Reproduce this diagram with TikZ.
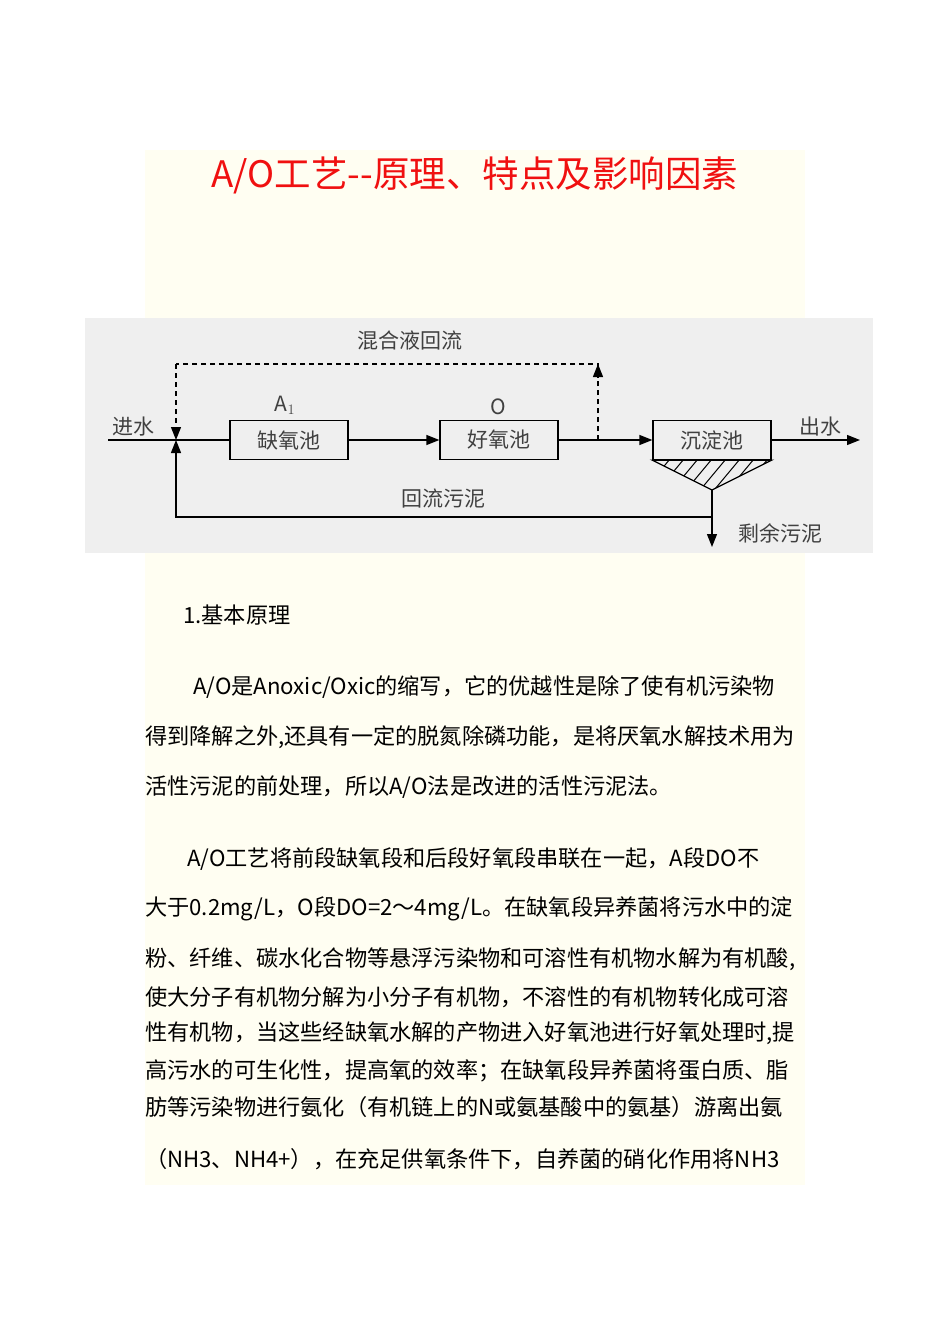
\documentclass[tikz,border=0pt]{standalone}
\usepackage{fontspec}
\setmainfont{Noto Sans CJK SC}
\usetikzlibrary{arrows.meta}
\definecolor{cream}{HTML}{FFFEF2}
\definecolor{dgrey}{HTML}{EFEFEF}
\definecolor{tred}{HTML}{F01010}
\tikzset{
  box/.style={draw,line width=1.3pt,fill=dgrey,minimum width=118pt,minimum height=39pt,inner sep=0pt,font=\fontsize{21}{21}\selectfont,text=black!75},
  lab/.style={font=\fontsize{21}{21}\selectfont,inner sep=1pt,text=black!75},
  ln/.style={line width=1.3pt},
  arr/.style={ln,-{Triangle[length=13pt,width=10pt]}},
  body/.style={anchor=west,inner sep=0pt,font=\fontsize{22.2}{22.2}\selectfont}
}
\begin{document}
\begin{tikzpicture}[x=1pt,y=-1pt]
\useasboundingbox (0,0) rectangle (950,1344);
\fill[white] (0,0) rectangle (950,1344);
\fill[cream] (145,150) rectangle (805,1185);
\node[font=\fontsize{36.5}{36.5}\selectfont,text=tred] (title) at (475,175) {A/O工艺{-}{-}原理、特点及影响因素};
\fill[dgrey] (85,318) rectangle (873,553);
% boxes
\node[box] (b1) at (289,440) {缺氧池};
\node[box] (b2) at (499,440) {好氧池};
\node[box] (b3) at (712,440) {沉淀池};
\coordinate (apex) at (712,490);
\draw[ln] (b3.south west) -- (b3.south east) -- (apex) -- cycle;
\begin{scope}
\clip (b3.south west) -- (b3.south east) -- (apex) -- cycle;
\foreach \i in {0,...,9} \draw[line width=1pt] (640+\i*14,495) -- (670+\i*14,459);
\end{scope}
\coordinate (in) at (108,440);
\coordinate (j) at (176,440);
\coordinate (split) at (598,440);
\coordinate (dtop) at (598,364);
\coordinate (dleft) at (176,364);
\coordinate (bot) at (712,517);
\coordinate (bleft) at (176,517);
\coordinate (out) at (860,440);
\coordinate (waste) at (712,547);
\draw[ln] (in) -- (b1.west);
\draw[arr] (b1.east) -- (b2.west);
\draw[arr] (b2.east) -- (b3.west);
\draw[arr] (b3.east) -- (out);
\draw[ln,dash pattern=on 5pt off 4pt] (split) -- (dtop) -- (dleft);
\draw[arr,dash pattern=on 5pt off 4pt] (split) -- (dtop);
\draw[arr,dash pattern=on 5pt off 4pt] (dleft) -- (j);
\draw[ln] (apex) -- (bot);
\draw[arr] (bot) -- (waste);
\draw[arr] (bot) -- (bleft) -- (j);
\node[lab] (l1) at (133,427) {进水};
\node[lab] (l2) at (285,405) {A$_1$};
\node[lab] (l3) at (498,407) {O};
\node[lab] (l4) at (820,427) {出水};
\node[lab,fill=dgrey] (l5) at (410,341) {混合液回流};
\node[lab,fill=dgrey] (l6) at (443,499) {回流污泥};
\node[lab,fill=dgrey] (l7) at (780,533) {剩余污泥};
% body text
\node[body] (t0) at (183,615) {1.基本原理};
\node[body] (t1) at (193,687) {A/O是Anoxic/Oxic的缩写，它的优越性是除了使有机污染物};
\node[body] (t2) at (145,737) {得到降解之外,还具有一定的脱氮除磷功能，是将厌氧水解技术用为};
\node[body] (t3) at (145,787) {活性污泥的前处理，所以A/O法是改进的活性污泥法。};
\node[body] (t4) at (187,859) {A/O工艺将前段缺氧段和后段好氧段串联在一起，A段DO不};
\node[body] (t5) at (145,909) {大于0.2mg/L，O段DO=2～4mg/L。在缺氧段异养菌将污水中的淀};
\node[body] (t6) at (145,959) {粉、纤维、碳水化合物等悬浮污染物和可溶性有机物水解为有机酸,};
\node[body] (t7) at (145,997) {使大分子有机物分解为小分子有机物，不溶性的有机物转化成可溶};
\node[body] (t8) at (145,1033) {性有机物，当这些经缺氧水解的产物进入好氧池进行好氧处理时,提};
\node[body] (t9) at (145,1071) {高污水的可生化性，提高氧的效率；在缺氧段异养菌将蛋白质、脂};
\node[body] (t10) at (145,1107) {肪等污染物进行氨化（有机链上的N或氨基酸中的氨基）游离出氨};
\node[body] (t11) at (145,1159) {（NH3、NH4+），在充足供氧条件下，自养菌的硝化作用将NH3};
\end{tikzpicture}
\end{document}
